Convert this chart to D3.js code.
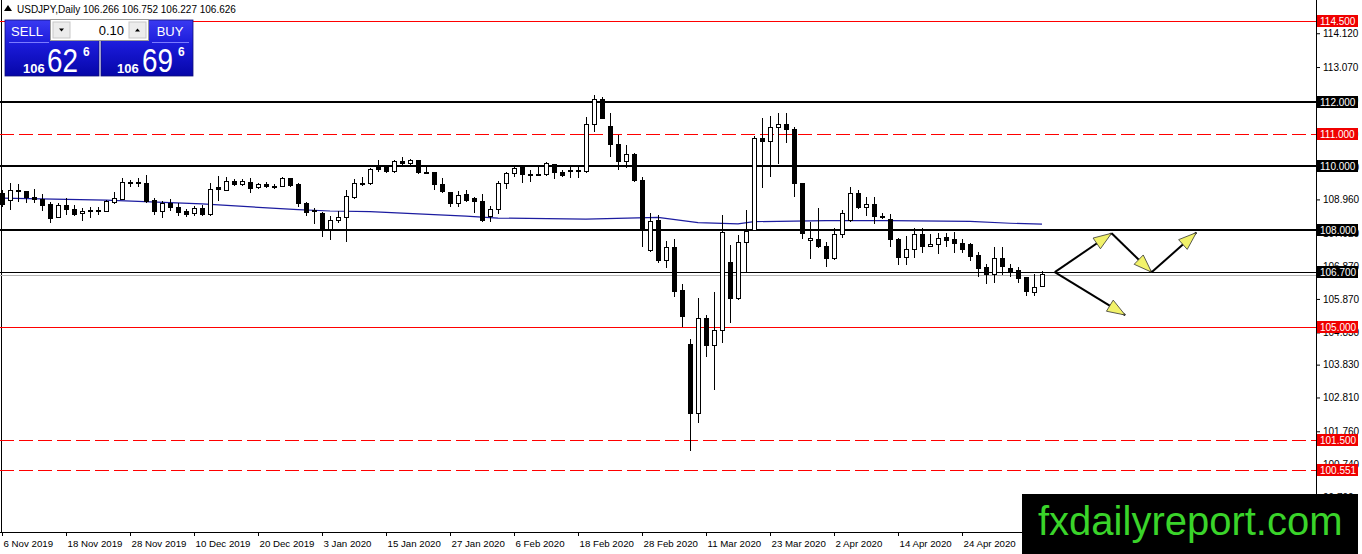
<!DOCTYPE html>
<html><head><meta charset="utf-8">
<script src="https://cdn.jsdelivr.net/npm/d3@7"></script>
<style>
html,body{margin:0;padding:0;background:#fff;overflow:hidden;}
svg{display:block;font-family:"Liberation Sans",Arial,sans-serif;}
</style></head><body>
<svg id="c" width="1362" height="554"></svg>
<script>
// ---------------- DATA ----------------
const symbolTitle = "USDJPY,Daily";
const lastQuote = [106.266, 106.752, 106.227, 106.626];
const sellBig = "62", buyBig = "69", pricePrefix = "106", priceFrac = "6", lotSize = "0.10";

const openP = [109.15,108.94,109.25,109.20,109.02,108.96,108.81,108.39,108.76,108.65,
108.53,108.62,108.60,108.60,108.86,108.97,109.50,109.46,109.46,108.92,
108.58,108.84,108.72,108.60,108.51,108.69,108.50,109.32,109.25,109.51,
109.41,109.49,109.33,109.43,109.36,109.36,109.60,109.41,108.84,108.62,
108.53,108.03,108.30,108.41,109.03,109.46,109.44,109.95,109.96,109.82,
110.13,110.06,110.16,109.81,109.79,109.43,109.18,108.84,109.10,108.99,
108.91,108.43,108.65,109.44,109.77,109.96,109.73,109.74,109.74,110.03,
109.79,109.83,109.84,109.82,111.30,112.05,111.22,110.68,110.13,110.37,
109.56,107.37,108.29,107.06,107.47,106.12,104.44,102.30,105.27,104.41,
104.88,107.01,105.87,107.62,107.99,110.86,110.75,111.20,111.30,111.14,
109.44,107.67,107.72,107.51,107.13,107.86,108.30,109.15,108.71,108.79,
108.44,108.34,107.72,107.16,107.41,107.88,107.49,107.57,107.77,107.72,
107.58,107.55,107.21,106.84,106.62,107.13,106.82,106.74,106.53,106.07,106.266];
const highP = [109.25,109.46,109.43,109.23,109.27,109.13,108.87,108.84,108.99,108.79,
108.68,108.74,108.74,108.94,109.18,109.62,109.56,109.61,109.72,108.99,
108.92,108.96,108.84,108.65,108.76,108.79,109.46,109.69,109.65,109.58,
109.58,109.61,109.48,109.49,109.43,109.67,109.62,109.46,108.89,108.68,
108.58,108.45,108.61,109.25,109.58,109.65,109.93,110.19,110.00,110.19,
110.29,110.21,110.19,110.03,109.82,109.62,109.20,109.23,109.25,109.03,
109.13,108.77,109.54,109.82,110.03,110.00,109.87,109.98,110.13,110.06,
109.87,109.96,109.98,111.53,112.20,112.15,111.63,110.96,110.65,110.41,
109.65,108.55,108.48,107.68,107.72,106.34,104.62,105.89,105.37,106.10,
108.48,107.55,107.86,108.63,110.93,111.48,111.55,111.65,111.63,111.20,
109.46,108.27,108.68,107.65,108.06,108.63,109.34,109.25,109.05,109.03,
108.55,108.51,107.75,107.83,108.06,108.06,107.89,107.93,107.91,107.96,
107.72,107.62,107.34,106.96,107.47,107.47,106.96,106.87,106.56,106.64,106.752];
const lowP = [108.72,108.63,108.89,108.86,108.86,108.61,108.22,108.37,108.48,108.43,
108.29,108.37,108.48,108.58,108.82,108.94,109.34,109.36,108.86,108.48,
108.39,108.60,108.43,108.41,108.46,108.43,108.43,108.92,109.23,109.38,
109.38,109.15,109.27,109.30,109.28,109.34,109.36,108.74,108.43,108.19,
107.80,107.70,108.22,107.65,108.96,109.38,109.41,109.82,109.77,109.79,
110.03,110.00,109.75,109.77,109.25,109.17,108.72,108.74,108.89,108.55,
108.27,108.27,108.51,109.27,109.65,109.48,109.51,109.69,109.69,109.59,
109.65,109.62,109.62,109.79,111.06,111.45,110.29,109.87,109.93,109.51,
107.47,107.34,106.99,106.82,105.94,105.01,101.16,102.01,104.08,103.04,
104.49,105.13,105.84,106.72,107.97,109.30,109.65,110.05,110.72,109.03,
107.72,107.10,107.44,106.87,107.08,107.77,108.27,108.65,108.45,108.20,
108.34,107.47,106.92,106.92,107.13,107.31,107.47,107.26,107.49,107.31,
107.31,107.06,106.54,106.34,106.38,106.61,106.54,106.36,105.96,105.96,106.227];
const closeP = [108.79,109.25,109.20,109.03,108.97,108.76,108.37,108.76,108.65,108.50,
108.60,108.60,108.62,108.89,108.99,109.49,109.47,109.48,108.91,108.58,
108.84,108.72,108.55,108.48,108.69,108.48,109.27,109.28,109.51,109.41,
109.51,109.30,109.41,109.36,109.37,109.60,109.39,108.84,108.56,108.59,
108.04,108.30,108.41,109.05,109.46,109.42,109.90,109.90,109.82,110.13,
110.09,110.16,109.79,109.78,109.41,109.20,108.84,109.08,108.94,108.89,
108.30,108.66,109.46,109.77,109.93,109.72,109.71,109.71,110.06,109.79,
109.69,109.85,109.85,111.30,112.05,111.48,110.65,110.13,110.37,109.54,
107.99,108.27,107.06,107.47,106.10,105.32,102.30,105.27,104.41,104.88,
107.94,105.87,107.63,107.96,110.86,110.75,111.20,111.30,111.14,109.44,
107.91,107.75,107.50,107.13,107.86,108.51,109.15,108.71,108.79,108.43,
108.42,107.72,107.16,107.41,107.88,107.51,107.57,107.75,107.68,107.58,
107.42,107.20,106.82,106.64,107.13,106.87,106.69,106.51,106.10,106.23,106.626];

// moving average (read at selected bars)
const maIdx = [0, 13, 25, 37, 41, 46, 58, 62, 73, 82, 87, 92, 94, 103, 111, 121, 126, 130];
const maVal = [109.00,108.94,108.82,108.64,108.60,108.58,108.44,108.38,108.35,108.40,108.24,108.20,108.27,108.30,108.30,108.28,108.22,108.19];

// date labels every 8 bars
const dateIdx = [0,8,16,24,32,40,48,56,64,72,80,88,96,104,112,120];
const dateLabels = ["6 Nov 2019","18 Nov 2019","28 Nov 2019","10 Dec 2019","20 Dec 2019","3 Jan 2020","15 Jan 2020","27 Jan 2020","6 Feb 2020","18 Feb 2020","28 Feb 2020","11 Mar 2020","23 Mar 2020","2 Apr 2020","14 Apr 2020","24 Apr 2020"];

// price scale tick labels
const priceTicks = [114.12,113.07,112.03,110.99,109.95,108.96,107.92,106.87,105.87,104.83,103.83,102.81,101.76,100.74,99.70];

// horizontal levels
const redSolidLevels = [114.5, 105.0];
const redDashedLevels = [111.0, 101.5, 100.551];
const blackLevels = [112.0, 110.0, 108.0];
const thinLevels = [106.7];
const bidPrice = 106.626;

// scenario arrows (bar index, price)
const arrowFromIdx = [131.6, 138.7, 143.7, 131.6];
const arrowFromPrice = [106.70, 107.91, 106.70, 106.70];
const arrowToIdx = [138.7, 143.7, 149.3, 140.4];
const arrowToPrice = [107.91, 106.70, 107.93, 105.37];

const watermark = "fxdailyreport.com";

// ---------------- DRAW ----------------
const svg = d3.select("#c");
const axisX = 1316, axisY = 532;
const x = d3.scaleLinear().domain([0, 164]).range([2, 1314]);
const y = d3.scaleLinear().domain([98.633, 115.152]).range([532, 0]);
const fmt = d3.format(".3f");

// frame
svg.append("line").attr("x1",1.5).attr("x2",1.5).attr("y1",0).attr("y2",axisY).attr("stroke","#000");

// levels
const lv = svg.append("g").attr("shape-rendering","crispEdges");
lv.selectAll(".rs").data(redSolidLevels).join("line")
  .attr("x1",0).attr("x2",axisX).attr("y1",d=>Math.round(y(d))+0.5).attr("y2",d=>Math.round(y(d))+0.5)
  .attr("stroke","#ff0000").attr("stroke-width",1);
lv.selectAll(".rd").data(redDashedLevels).join("line")
  .attr("x1",0).attr("x2",axisX).attr("y1",d=>Math.round(y(d))+0.5).attr("y2",d=>Math.round(y(d))+0.5)
  .attr("stroke","#ff0000").attr("stroke-width",1).attr("stroke-dasharray","14,5");
lv.selectAll(".bk").data(blackLevels).join("line")
  .attr("x1",0).attr("x2",axisX).attr("y1",d=>Math.round(y(d))).attr("y2",d=>Math.round(y(d)))
  .attr("stroke","#000").attr("stroke-width",2);
lv.append("line").attr("x1",0).attr("x2",axisX).attr("y1",Math.round(y(bidPrice))+0.5).attr("y2",Math.round(y(bidPrice))+0.5)
  .attr("stroke","#b4b4b4");
lv.selectAll(".th").data(thinLevels).join("line")
  .attr("x1",0).attr("x2",axisX).attr("y1",d=>Math.round(y(d))+0.5).attr("y2",d=>Math.round(y(d))+0.5)
  .attr("stroke","#000").attr("stroke-width",1);

// moving average
const maLine = d3.line().x((d,k)=>x(maIdx[k])).y(d=>y(d));
svg.append("path").attr("d", maLine(maVal)).attr("fill","none").attr("stroke","#1c1ca0").attr("stroke-width",1.2);

// candles
const candles = svg.append("g").attr("shape-rendering","crispEdges");
const idx = d3.range(openP.length);
candles.selectAll("line.w").data(idx).join("line")
  .attr("x1",i=>x(i)+0.5).attr("x2",i=>x(i)+0.5)
  .attr("y1",i=>y(highP[i])).attr("y2",i=>y(lowP[i]))
  .attr("stroke","#000").attr("stroke-width",1);
candles.selectAll("rect.b").data(idx).join("rect")
  .attr("x",i=>x(i)-1.5).attr("width",4)
  .attr("y",i=>Math.min(y(openP[i]),y(closeP[i])))
  .attr("height",i=>Math.max(1,Math.abs(y(openP[i])-y(closeP[i]))))
  .attr("fill",i=>closeP[i]>=openP[i]?"#fff":"#000")
  .attr("stroke","#000").attr("stroke-width",1);

// arrows
const ag = svg.append("g");
arrowFromIdx.forEach((f,k)=>{
  const x1=x(f), y1=y(arrowFromPrice[k]), x2=x(arrowToIdx[k]), y2=y(arrowToPrice[k]);
  ag.append("line").attr("x1",x1).attr("y1",y1).attr("x2",x2).attr("y2",y2)
    .attr("stroke","#000").attr("stroke-width",2);
  const dx=x2-x1, dy=y2-y1, L=Math.hypot(dx,dy), ux=dx/L, uy=dy/L, px=-uy, py=ux;
  const hl=18, hw=6.5;
  const bx=x2-ux*hl, by=y2-uy*hl;
  ag.append("path").attr("d",`M${x2},${y2}L${bx+px*hw},${by+py*hw}L${bx-px*hw},${by-py*hw}Z`)
    .attr("fill","#f2f26a").attr("stroke","#333").attr("stroke-width",0.8);
});

// price axis
const ya = svg.append("g").attr("transform",`translate(${axisX},0)`)
  .call(d3.axisRight(y).tickValues(priceTicks).tickFormat(fmt).tickSize(4).tickSizeOuter(0));
ya.select(".domain").remove();
ya.selectAll("text").attr("font-size",10).attr("font-family","Liberation Sans, Arial, sans-serif").attr("x",7).attr("fill","#000");
ya.selectAll("line").attr("stroke","#000");
svg.append("line").attr("x1",axisX+0.5).attr("x2",axisX+0.5).attr("y1",0).attr("y2",554).attr("stroke","#000");

// time axis
const xa = svg.append("g").attr("transform",`translate(0,${axisY})`)
  .call(d3.axisBottom(x).tickValues(dateIdx).tickFormat((d,k)=>dateLabels[k]).tickSize(4).tickSizeOuter(0));
xa.select(".domain").remove();
xa.selectAll("text").attr("font-size",9.7).attr("font-family","Liberation Sans, Arial, sans-serif")
  .attr("text-anchor","start").attr("dx",1).attr("y",8).attr("fill","#000");
xa.selectAll("line").attr("stroke","#000");
svg.append("line").attr("x1",0).attr("x2",axisX).attr("y1",axisY+0.5).attr("y2",axisY+0.5).attr("stroke","#000");

// price labels
function priceLabel(v, bg){
  const cy = Math.round(y(v));
  svg.append("rect").attr("x",axisX+1).attr("y",cy-6).attr("width",41).attr("height",12).attr("fill",bg);
  svg.append("text").attr("x",axisX+4).attr("y",cy+4).attr("fill","#fff").attr("font-size",10).text(fmt(v));
}
redSolidLevels.concat(redDashedLevels).forEach(v=>priceLabel(v,"#f00000"));
blackLevels.concat(thinLevels).forEach(v=>priceLabel(v,"#000"));

// title
svg.append("path").attr("d","M4,11L8,5L12,11Z").attr("fill","#000");
svg.append("text").attr("x",17).attr("y",13).attr("font-size",10).attr("fill","#000")
  .text(symbolTitle+" "+lastQuote.map(fmt).join(" "));

// one-click panel
const defs = svg.append("defs");
const gr = defs.append("linearGradient").attr("id","bl").attr("x1",0).attr("x2",0).attr("y1",0).attr("y2",1);
gr.append("stop").attr("offset","0%").attr("stop-color","#3a3af2");
gr.append("stop").attr("offset","45%").attr("stop-color","#1a1ad8");
gr.append("stop").attr("offset","100%").attr("stop-color","#0606a8");
const pn = svg.append("g");
pn.append("rect").attr("x",5).attr("y",20).attr("width",94).attr("height",56).attr("fill","url(#bl)").attr("stroke","#10107a").attr("stroke-width",0.8);
pn.append("rect").attr("x",101).attr("y",20).attr("width",92).attr("height",56).attr("fill","url(#bl)").attr("stroke","#10107a").attr("stroke-width",0.8);
pn.append("rect").attr("x",50.5).attr("y",19.5).attr("width",98).attr("height",21).attr("fill","#fff").attr("stroke","#9a9a9a");
pn.append("rect").attr("x",53).attr("y",22).attr("width",17).attr("height",16).attr("fill","#ececec").attr("stroke","#c8c8c8");
pn.append("rect").attr("x",129).attr("y",22).attr("width",17).attr("height",16).attr("fill","#ececec").attr("stroke","#c8c8c8");
pn.append("path").attr("d","M59,28.5L64,28.5L61.5,31.5Z").attr("fill","#000");
pn.append("path").attr("d","M135,31.5L140,31.5L137.5,28.5Z").attr("fill","#000");
pn.append("text").attr("x",124).attr("y",35).attr("text-anchor","end").attr("font-size",13).attr("fill","#000").text(lotSize);
pn.append("line").attr("x1",9).attr("x2",49).attr("y1",42.5).attr("y2",42.5).attr("stroke","#7b7bff");
pn.append("line").attr("x1",152).attr("x2",189).attr("y1",42.5).attr("y2",42.5).attr("stroke","#7b7bff");
pn.append("text").attr("x",27).attr("y",36).attr("text-anchor","middle").attr("font-size",13).attr("fill","#fff").text("SELL");
pn.append("text").attr("x",170).attr("y",36).attr("text-anchor","middle").attr("font-size",13).attr("fill","#fff").text("BUY");
[[23,47,83,sellBig],[117,142,178,buyBig]].forEach(([a,b,c,big])=>{
  pn.append("text").attr("x",a).attr("y",73).attr("font-size",13).attr("font-weight","bold").attr("fill","#fff").text(pricePrefix);
  pn.append("text").attr("x",b).attr("y",72).attr("font-size",34).attr("fill","#fff")
    .attr("textLength",31).attr("lengthAdjust","spacingAndGlyphs").text(big);
  pn.append("text").attr("x",c).attr("y",56).attr("font-size",12).attr("font-weight","bold").attr("fill","#fff").text(priceFrac);
});

// watermark
svg.append("rect").attr("x",1022).attr("y",494).attr("width",336).attr("height",60).attr("fill","#000");
svg.append("text").attr("x",1038).attr("y",535).attr("font-size",40).attr("fill","#3ad42a").text(watermark);
</script>
</body></html>
